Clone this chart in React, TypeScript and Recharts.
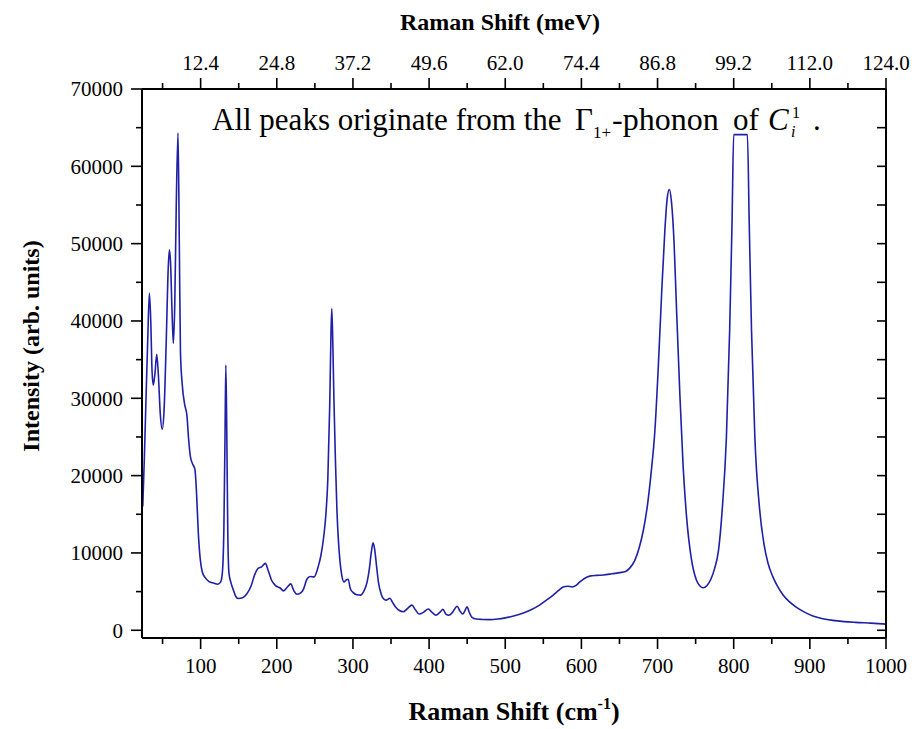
import React from 'react';
import { LineChart, Line, XAxis, YAxis } from 'recharts';

const FONT = '"Liberation Serif", "Times New Roman", serif';

// Raman shift (cm^-1)
const ramanShift = [
  24, 26, 28, 30.5, 32.7, 34.5, 36.2, 37.8, 40, 42.4, 44.5, 47, 49.5, 52, 55, 57.5, 59, 60.5, 62.5, 64.2,
  66, 68, 70.3, 72, 73.5, 76, 79, 82, 84, 86.5, 89.5, 92.5, 94.5, 97, 99.5, 102, 106, 111, 117, 122.5,
  126.5, 128.5, 130.5, 132, 133.1, 134.3, 135.6, 137.2, 140, 143, 146, 149.5, 155, 160.5, 166.5, 171, 175.5, 180, 185, 188.5,
  193, 198, 204, 209, 214, 218.3, 222.5, 226.5, 231, 235, 239.5, 244, 249, 254, 258, 261.5, 264.5, 267, 269.5, 271,
  272.2, 273.5, 275, 277, 279, 281, 283, 285.5, 288.3, 291, 293.8, 296.5, 300, 305, 310, 314.5, 318.5, 321.5, 324, 326.4,
  328.5, 331, 333.5, 337, 341, 344, 348.5, 352, 356, 361, 366, 371, 377.5, 382, 387, 393, 399, 404, 409, 414,
  418.2, 422, 426, 431, 436.8, 440.5, 444.2, 447, 449.8, 452.5, 456, 462, 470, 480, 490, 500, 511, 523, 534, 545,
  555, 563, 570, 576, 582, 588, 593, 598, 604, 611, 620, 629, 640, 650, 658, 664, 670, 676, 681.5, 686.5,
  691.5, 696.5, 701, 705.3, 709.6, 712.7, 715.5, 718.3, 721.8, 724.9, 729.3, 733.6, 738, 744.5, 751, 756, 760, 765, 770, 775,
  780, 785, 790.4, 794.7, 797.8, 800, 818, 820.4, 823.4, 827.8, 834, 840, 845, 851.5, 858, 864.6, 873, 882, 893, 904,
  917, 930, 945, 960, 980, 1000,
];

// Intensity (arb. units)
const intensity = [
  16000, 22000, 29000, 37500, 43600, 40000, 33500, 31700, 33200, 35700, 33000, 28000, 26000, 28500, 38000, 47000, 49200, 47500, 41000, 37100,
  42000, 55000, 64300, 50000, 36000, 31600, 29200, 27800, 25000, 22500, 21500, 20800, 18000, 12500, 9200, 7600, 6800, 6300, 6100, 5950,
  6300, 7400, 13000, 25000, 34300, 26000, 13000, 7400, 6100, 5200, 4400, 4100, 4200, 4700, 5800, 7200, 8000, 8200, 8650, 7800,
  6500, 5800, 5500, 5100, 5600, 6000, 5100, 4650, 4800, 5300, 6600, 6950, 6900, 8100, 9700, 12000, 15000, 19500, 29000, 37500,
  41600, 37500, 30000, 22000, 15500, 11500, 8900, 7000, 6250, 6500, 6600, 5400, 4900, 4600, 4550, 5100, 6200, 7900, 10000, 11300,
  10500, 8300, 6200, 4700, 4000, 3900, 4150, 3600, 3000, 2550, 2400, 2750, 3250, 2650, 2100, 2350, 2750, 2300, 1950, 2300,
  2700, 2100, 1950, 2350, 3100, 2500, 2100, 2500, 3050, 2400, 1700, 1450, 1400, 1380, 1450, 1600, 1850, 2200, 2650, 3250,
  3950, 4550, 5150, 5600, 5700, 5600, 5800, 6250, 6700, 7000, 7100, 7150, 7300, 7450, 7600, 8100, 9000, 10700, 13000, 16000,
  20300, 25800, 34100, 43400, 51700, 55900, 57000, 55400, 49900, 41600, 30500, 21200, 14800, 9200, 6500, 5700, 5500, 5800, 6600, 8000,
  10300, 15700, 24900, 38800, 52600, 64100, 64100, 52600, 38800, 24900, 15700, 11000, 8700, 6900, 5600, 4600, 3700, 3000, 2350, 1850,
  1500, 1280, 1120, 1020, 920, 800,
];

const xTicks = [50, 100, 150, 200, 250, 300, 350, 400, 450, 500, 550, 600, 650, 700, 750, 800, 850, 900, 950, 1000];
const cmTickLabels = ['100', '200', '300', '400', '500', '600', '700', '800', '900', '1000'];
const meVTickLabels = ['12.4', '24.8', '37.2', '49.6', '62.0', '74.4', '86.8', '99.2', '112.0', '124.0'];
const yTicks = [0, 5000, 10000, 15000, 20000, 25000, 30000, 35000, 40000, 45000, 50000, 55000, 60000, 65000, 70000];

const data = ramanShift.map((s, i) => ({ shift: s, intensity: intensity[i] }));

const X_DOMAIN: [number, number] = [23, 1000];
const Y_DOMAIN: [number, number] = [-1000, 70000];

const BottomTick = (props: any) => {
  const { x, y, payload } = props;
  const v = payload.value;
  const major = v % 100 === 0;
  return (
    <g>
      <line x1={x} x2={x} y1={y} y2={y + (major ? 11 : 6)} stroke="#000" strokeWidth={1.6} />
      {major && (
        <text x={x} y={y + 35} textAnchor="middle" fontFamily={FONT} fontSize={21} fill="#000">
          {cmTickLabels[v / 100 - 1]}
        </text>
      )}
    </g>
  );
};

const TopTick = (props: any) => {
  const { x, y, payload } = props;
  const v = payload.value;
  const major = v % 100 === 0;
  return (
    <g>
      <line x1={x} x2={x} y1={y} y2={y - (major ? 11 : 6)} stroke="#000" strokeWidth={1.6} />
      {major && (
        <text x={x} y={y - 19} textAnchor="middle" fontFamily={FONT} fontSize={21} fill="#000">
          {meVTickLabels[v / 100 - 1]}
        </text>
      )}
    </g>
  );
};

const LeftTick = (props: any) => {
  const { x, y, payload } = props;
  const v = payload.value;
  const major = v % 10000 === 0;
  return (
    <g>
      <line x1={x} x2={x - (major ? 11 : 6)} y1={y} y2={y} stroke="#000" strokeWidth={1.6} />
      {major && (
        <text x={x - 19} y={y} dy="0.35em" textAnchor="end" fontFamily={FONT} fontSize={21} fill="#000">
          {String(v)}
        </text>
      )}
    </g>
  );
};

const RightTick = (props: any) => {
  const { x, y } = props;
  return <line x1={x} x2={x - 9} y1={y} y2={y} stroke="#000" strokeWidth={1.6} />;
};

const axisLine = { stroke: '#000', strokeWidth: 2 };

export default function App() {
  return (
    <LineChart width={911} height={721} data={data} margin={{ top: 0, right: 0, bottom: 0, left: 0 }}>
      <XAxis
        xAxisId="bottom"
        dataKey="shift"
        type="number"
        orientation="bottom"
        domain={X_DOMAIN}
        allowDataOverflow
        ticks={xTicks}
        interval={0}
        height={91}
        tickSize={0}
        tickMargin={0}
        tickLine={false}
        axisLine={axisLine}
        tick={<BottomTick />}
      />
      <XAxis
        xAxisId="top"
        dataKey="shift"
        type="number"
        orientation="top"
        domain={X_DOMAIN}
        allowDataOverflow
        ticks={xTicks}
        interval={0}
        height={81}
        tickSize={0}
        tickMargin={0}
        tickLine={false}
        axisLine={axisLine}
        tick={<TopTick />}
      />
      <YAxis
        yAxisId="left"
        type="number"
        orientation="left"
        domain={Y_DOMAIN}
        allowDataOverflow
        ticks={yTicks}
        interval={0}
        width={134}
        tickSize={0}
        tickMargin={0}
        tickLine={false}
        axisLine={axisLine}
        tick={<LeftTick />}
      />
      <YAxis
        yAxisId="right"
        type="number"
        orientation="right"
        domain={Y_DOMAIN}
        allowDataOverflow
        ticks={yTicks}
        interval={0}
        width={33}
        tickSize={0}
        tickMargin={0}
        tickLine={false}
        axisLine={axisLine}
        tick={<RightTick />}
      />
      <Line
        xAxisId="bottom"
        yAxisId="left"
        dataKey="intensity"
        type="monotone"
        dot={false}
        stroke="#1f1fa8"
        strokeWidth={1.6}
        isAnimationActive={false}
      />
      <Line
        xAxisId="top"
        yAxisId="right"
        dataKey="intensity"
        type="monotone"
        dot={false}
        stroke="none"
        strokeWidth={0}
        isAnimationActive={false}
        legendType="none"
      />
      <text x={492} y={22} textAnchor="middle" fontFamily={FONT} fontSize={24} fontWeight="bold" fill="#000">
        Raman Shift (meV)
      </text>
      <text x={506} y={712} textAnchor="middle" fontFamily={FONT} fontSize={26} fontWeight="bold" fill="#000">
        Raman Shift (cm<tspan dy={-11} fontSize={16}>-1</tspan><tspan dy={11}>)</tspan>
      </text>
      <text
        x={0}
        y={0}
        transform="translate(31,338) rotate(-90)"
        textAnchor="middle"
        fontFamily={FONT}
        fontSize={24}
        fontWeight="bold"
        fill="#000"
      >
        Intensity (arb. units)
      </text>
      <g fontFamily={FONT} fill="#000">
        <text x={204} y={122} fontSize={31}>All peaks originate from the</text>
        <text x={567} y={122} fontSize={31}>Γ</text>
        <text x={585} y={130} fontSize={17}>1+</text>
        <text x={604} y={122} fontSize={32}>-phonon</text>
        <text x={725} y={122} fontSize={31}>of</text>
        <text x={760} y={122} fontSize={31} fontStyle="italic">C</text>
        <text x={784} y={110} fontSize={16}>1</text>
        <text x={783} y={129} fontSize={16} fontStyle="italic">i</text>
        <text x={805} y={122} fontSize={31}>.</text>
      </g>
    </LineChart>
  );
}
